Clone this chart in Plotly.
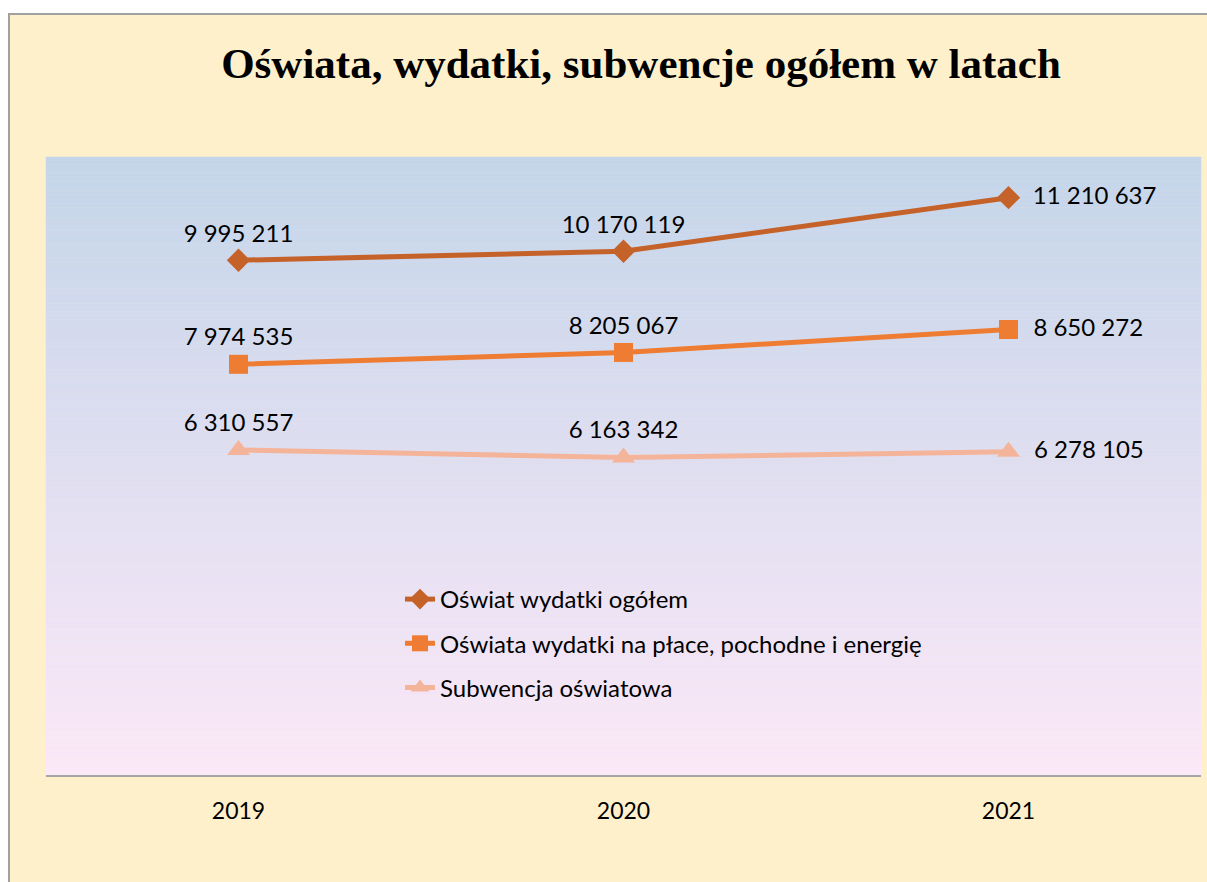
import plotly.graph_objects as go

# data
years = ["2019", "2020", "2021"]
series_names = [
    "Oświat wydatki ogółem",
    "Oświata wydatki na płace, pochodne i energię",
    "Subwencja oświatowa",
]
wydatki_ogolem = [9995211, 10170119, 11210637]
wydatki_place = [7974535, 8205067, 8650272]
subwencja = [6310557, 6163342, 6278105]

W, H = 1207, 882
L, R, T, B = 46, 6, 157, 107
pw, ph = W - L - R, H - T - B


def px_x(x):
    return (x - L) / pw


def px_y(y):
    return (H - B - y) / ph


def fmt(v):
    return f"{v:,}".replace(",", " ")


FONT = "Lato, Open Sans, sans-serif"
colors = ["#C5622A", "#EE7D33", "#F4B49A"]
symbols = ["diamond", "square", "triangle-up"]
sizes = [18, 19, 20]
positions = ["top center", "top center", "middle right"]

fig = go.Figure()
for i, (name, vals, c, s, sz) in enumerate(zip(series_names, [wydatki_ogolem, wydatki_place, subwencja],
                                               colors, symbols, sizes)):
    labels = [fmt(v) for v in vals]
    labels[-1] = "\u2002" + labels[-1]  # extra gap for the right-hand labels
    fig.add_trace(go.Scatter(
        x=years, y=vals, name=name, mode="lines+markers+text",
        legendgroup="g%d" % i,
        line=dict(color=c, width=5),
        marker=dict(symbol=s, size=sz, color=c),
        text=labels,
        textposition=positions,
        textfont=dict(family=FONT, size=24, color="black"),
        cliponaxis=False,
    ))

shapes = []
# pale yellow chart area with grey border
shapes.append(dict(type="rect", xref="paper", yref="paper", layer="below",
                   x0=px_x(9), x1=px_x(1230), y0=px_y(14), y1=px_y(900),
                   fillcolor="#FFF0CC", line=dict(color="#A0A0A0", width=2)))
# gradient plot background
n = 160
top_c = (196, 213, 234)
bot_c = (251, 232, 248)
for i in range(n):
    f = i / (n - 1)
    rgb = "rgb(%d,%d,%d)" % tuple(round(top_c[k] + (bot_c[k] - top_c[k]) * f) for k in range(3))
    shapes.append(dict(type="rect", xref="paper", yref="paper", layer="below",
                       x0=0, x1=1, y0=1 - (i + 1) / n, y1=1 - i / n,
                       fillcolor=rgb, line=dict(width=0.5, color=rgb)))

fig.update_layout(
    width=W, height=H,
    margin=dict(l=L, r=R, t=T, b=B),
    paper_bgcolor="white",
    plot_bgcolor="rgba(0,0,0,0)",
    shapes=shapes,
    title=dict(text="<b>Oświata, wydatki, subwencje ogółem w latach</b>",
               x=641 / W, xanchor="center", xref="container",
               y=1 - 63 / H, yanchor="middle", yref="container",
               font=dict(family="Liberation Serif, Times New Roman, serif", size=43, color="black")),
    showlegend=True,
    legend=dict(x=px_x(400), y=px_y(577), xanchor="left", yanchor="top",
                bgcolor="rgba(0,0,0,0)",
                font=dict(family=FONT, size=24, color="black"),
                tracegroupgap=10, itemsizing="trace"),
    xaxis=dict(range=[-0.5, 2.5], showgrid=False, zeroline=False, showline=True,
               linecolor="#A6A6A6", linewidth=2, ticks="", ticklabelstandoff=14,
               tickfont=dict(family=FONT, size=23, color="black")),
    yaxis=dict(range=[0, 12000000], showgrid=False, zeroline=False, showline=False,
               showticklabels=False, ticks=""),
)

fig.write_html("out.html", config={"displayModeBar": False},
               post_script="document.body.style.margin='0';document.body.style.overflow='hidden';")
